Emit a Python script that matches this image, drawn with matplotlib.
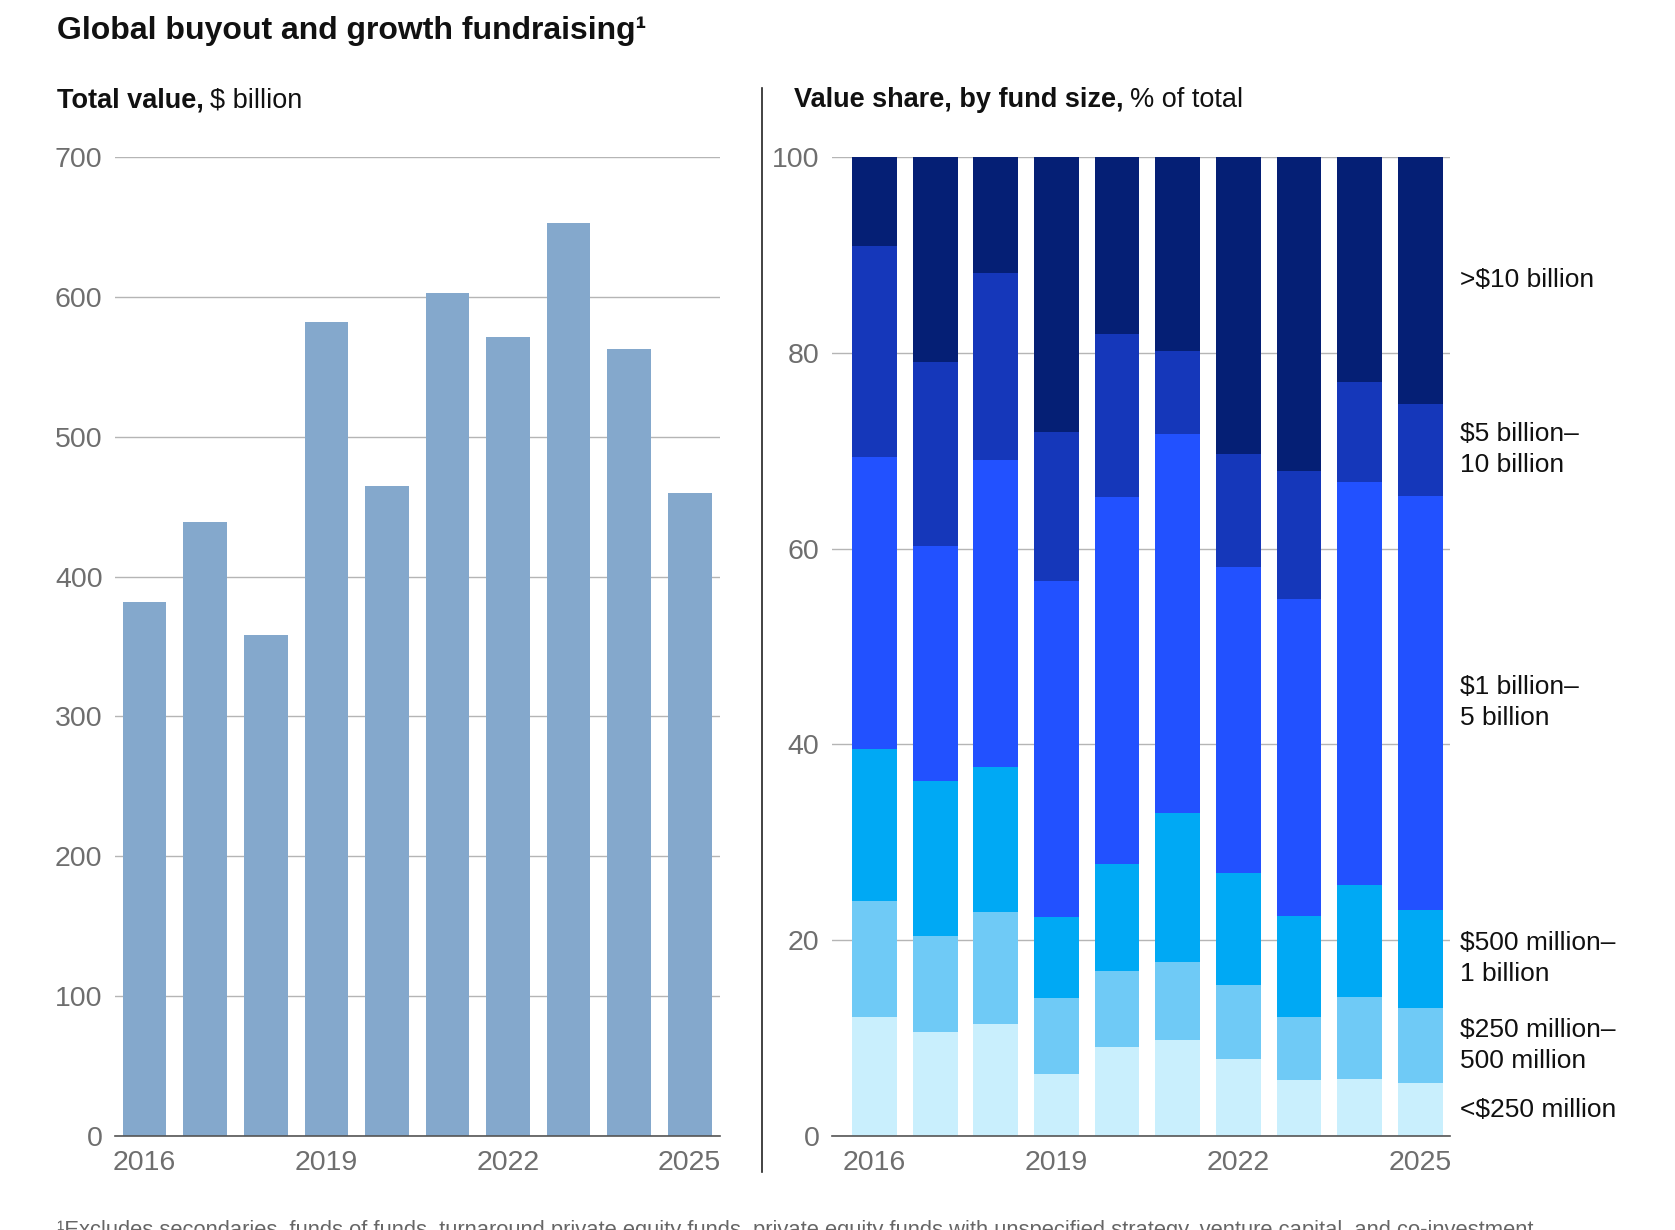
import matplotlib
matplotlib.use("Agg")
import matplotlib.pyplot as plt
import numpy as np

plt.rcParams['font.family'] = ['Liberation Sans', 'DejaVu Sans']

years = [2016, 2017, 2018, 2019, 2020, 2021, 2022, 2023, 2024, 2025]
tick_years = [2016, 2019, 2022, 2025]

# total fundraising, $ billion
total_value = [382, 439, 358, 582, 465, 603, 571, 653, 563, 460]

# value share by fund size, % of total (bottom to top)
share_lt250m = [12.2, 10.6, 11.4, 6.3, 9.1, 9.8, 7.9, 5.7, 5.8, 5.4]
share_250m_500m = [11.8, 9.8, 11.5, 7.8, 7.8, 8.0, 7.5, 6.5, 8.4, 7.7]
share_500m_1b = [15.5, 15.9, 14.8, 8.3, 10.9, 15.2, 11.5, 10.3, 11.4, 10.0]
share_1b_5b = [29.9, 24.0, 31.3, 34.3, 37.5, 38.7, 31.2, 32.4, 41.2, 42.3]
share_5b_10b = [21.5, 18.8, 19.2, 15.2, 16.6, 8.5, 11.6, 13.0, 10.2, 9.4]
share_gt10b = [9.1, 20.9, 11.8, 28.1, 18.1, 19.8, 30.3, 32.1, 23.0, 25.2]

size_labels = ['<$250 million', '$250 million–\n500 million', '$500 million–\n1 billion',
               '$1 billion–\n5 billion', '$5 billion–\n10 billion', '>$10 billion']
size_colors = ['#C9EFFD', '#6FCAF6', '#00A9F4', '#2251FF', '#1537BA', '#051F75']

W, H = 1675, 1230
fig = plt.figure(figsize=(W / 100, H / 100), dpi=100)

tick_color = '#6E6E6E'
grid_color = '#B5B5B5'


def fx(px):
    return px / W


def fy(py):
    return 1 - py / H


def style_axis(ax, xlim):
    ax.set_xlim(*xlim)
    for s in ['top', 'right', 'left']:
        ax.spines[s].set_visible(False)
    ax.spines['bottom'].set_color('#555555')
    ax.spines['bottom'].set_linewidth(1.2)
    ax.yaxis.grid(True, color=grid_color, linewidth=1.0)
    ax.set_axisbelow(True)
    ax.tick_params(axis='both', length=0, labelsize=20.5, labelcolor=tick_color)
    ax.tick_params(axis='y', pad=9)
    ax.tick_params(axis='x', pad=10)
    x = np.arange(len(years))
    ax.set_xticks([years.index(y) for y in tick_years])
    ax.set_xticklabels([str(y) for y in tick_years])
    return x


# left panel
ax1 = fig.add_axes([fx(115), fy(1136), fx(720 - 115), (1136 - 157) / H])
x = style_axis(ax1, (-0.49, 9.5))
ax1.bar(x, total_value, width=0.72, color='#84A8CC', zorder=2)
ax1.set_ylim(0, 700)
ax1.set_yticks(range(0, 701, 100))

# right panel
ax2 = fig.add_axes([fx(832), fy(1136), fx(1450 - 832), (1136 - 157) / H])
x = style_axis(ax2, (-0.7, 9.49))
series = [share_lt250m, share_250m_500m, share_500m_1b, share_1b_5b, share_5b_10b, share_gt10b]
bottom = np.zeros(len(years))
for vals, col, lab in zip(series, size_colors, size_labels):
    vals = np.array(vals)
    ax2.bar(x, vals, width=0.74, bottom=bottom, color=col, zorder=2)
    mid = bottom[-1] + vals[-1] / 2
    ax2.annotate(lab, xy=(1, mid), xycoords=('axes fraction', 'data'),
                 xytext=(7, 0), textcoords='offset points',
                 ha='left', va='center', fontsize=19, color='#111111',
                 linespacing=1.35, annotation_clip=False)
    bottom += vals
ax2.set_ylim(0, 100)
ax2.set_yticks(range(0, 101, 20))

# separator line
fig.add_artist(plt.Line2D([fx(762), fx(762)], [fy(88), fy(1172)], color='#222222', linewidth=1.2))

renderer = fig.canvas.get_renderer()


def two_part(xpx, ypx, bold, regular, size):
    t = fig.text(fx(xpx), fy(ypx), bold, fontsize=size, fontweight='bold',
                 ha='left', va='center', color='#111111')
    bb = t.get_window_extent(renderer)
    fig.text(bb.x1 / W + fx(6), fy(ypx), regular, fontsize=size,
             ha='left', va='center', color='#111111')


fig.text(fx(57), fy(31), 'Global buyout and growth fundraising¹', fontsize=23,
         fontweight='bold', ha='left', va='center', color='#111111')
two_part(57, 100, 'Total value,', '$ billion', 19.5)
two_part(794, 100, 'Value share, by fund size,', '% of total', 19.5)

fig.text(fx(57), fy(1236), '¹Excludes secondaries, funds of funds, turnaround private equity funds, '
         'private equity funds with unspecified strategy, venture capital, and co-investment',
         fontsize=15.8, ha='left', va='baseline', color='#666666')

fig.savefig('out.png', dpi=100)
